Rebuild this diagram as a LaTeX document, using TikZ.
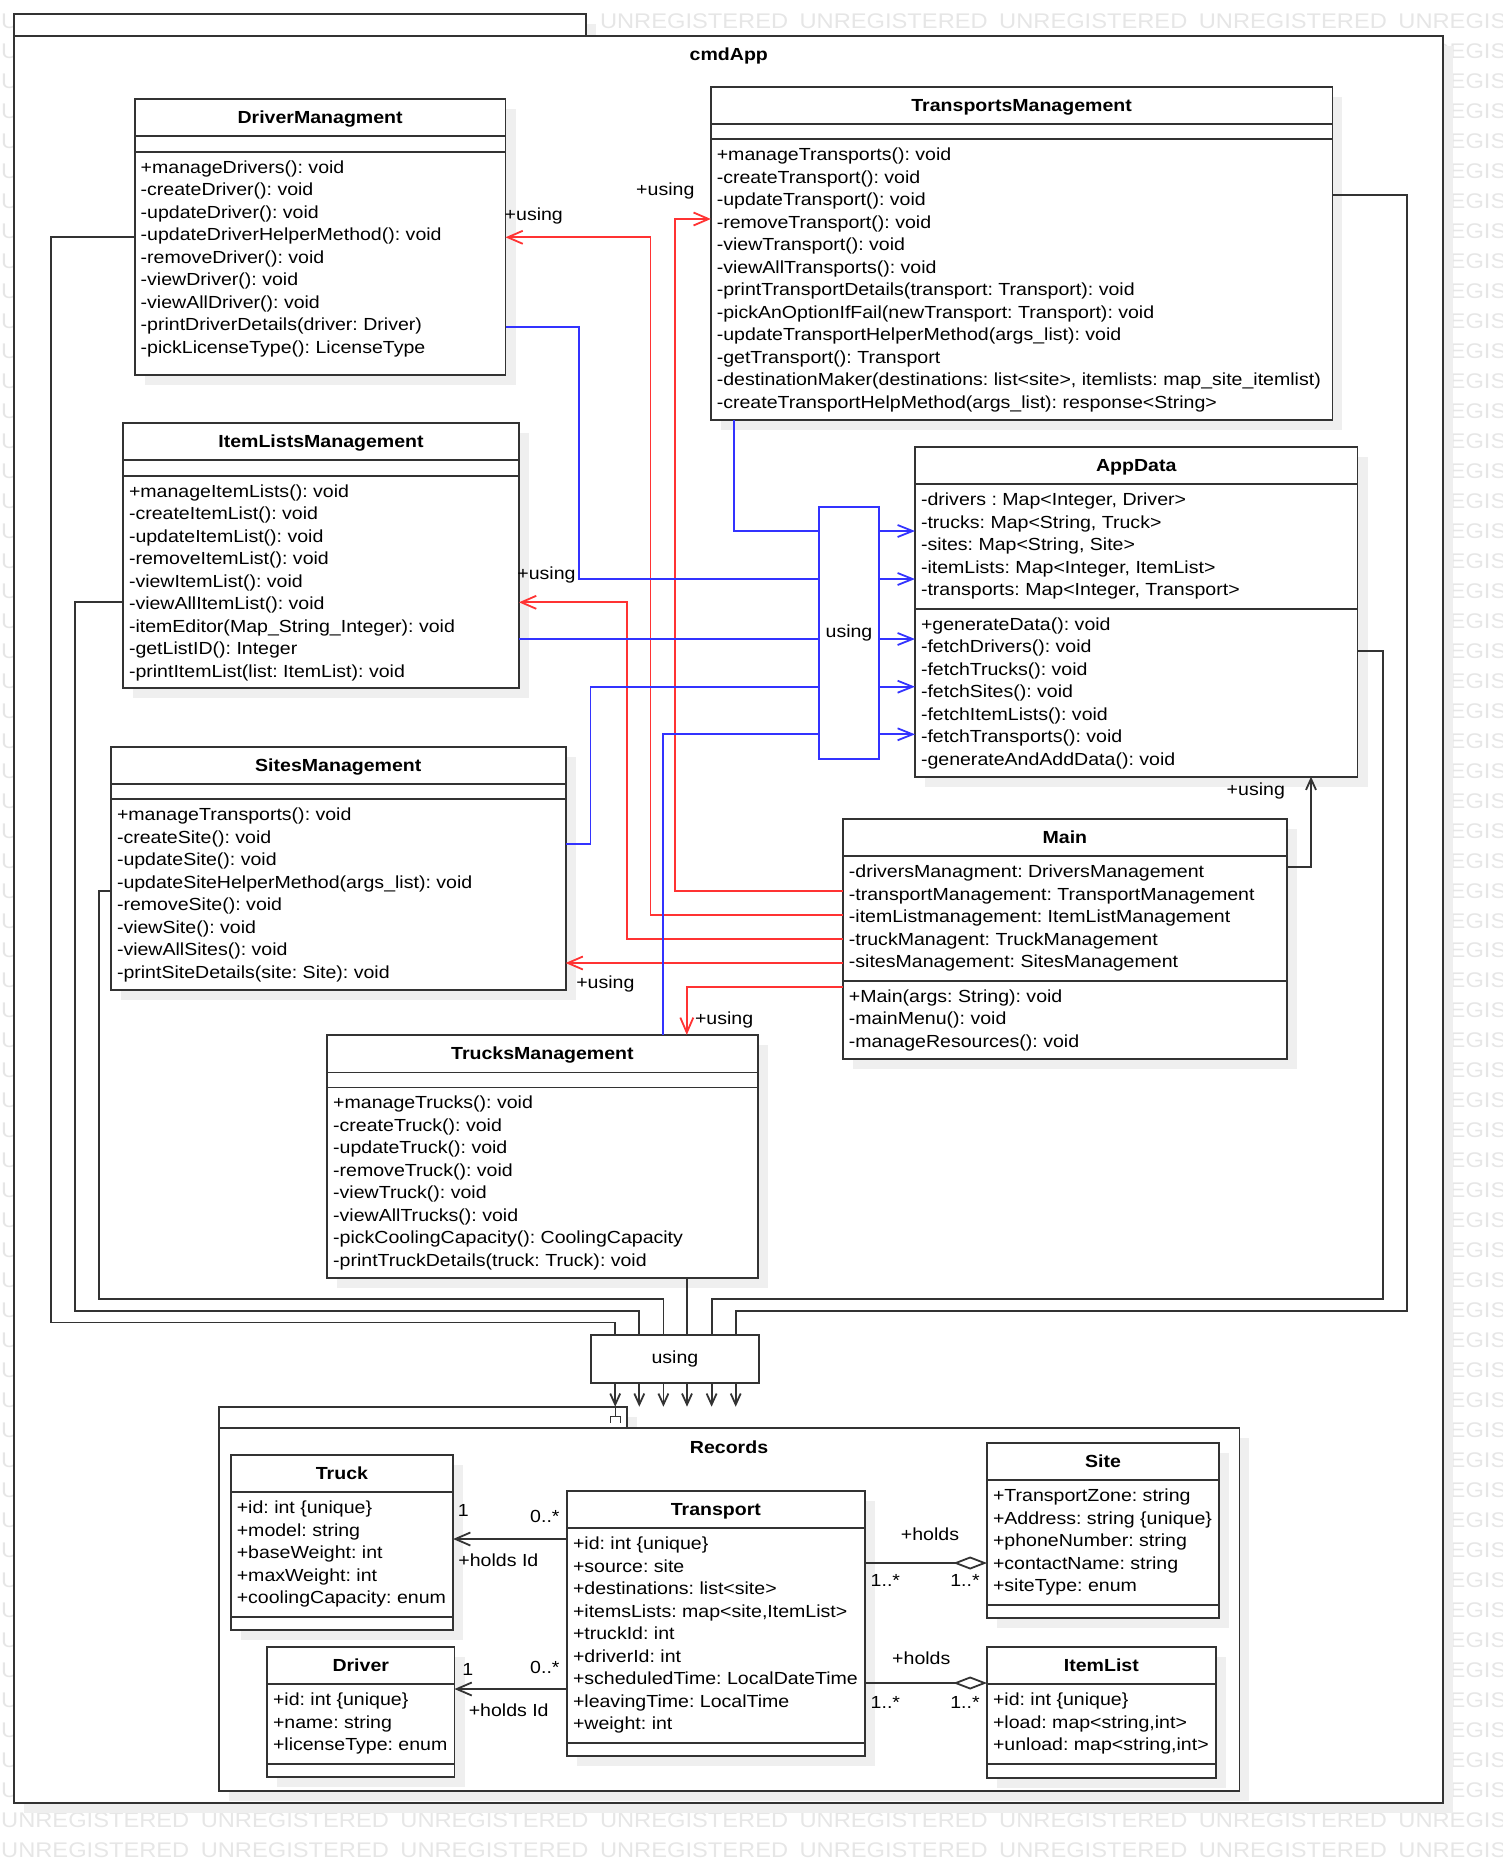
\documentclass[tikz,border=0pt]{standalone}
\usepackage{fontspec}
\setmainfont{Liberation Sans}[FakeStretch=1.117]
\usetikzlibrary{positioning,arrows.meta,shadows}
\newcommand{\umlfont}{\fontsize{17.5pt}{22.5pt}\selectfont\frenchspacing}
\definecolor{linkred}{HTML}{FF3333}
\definecolor{linkblue}{HTML}{3333FF}
\definecolor{edgegray}{HTML}{333333}
\definecolor{shadowgray}{HTML}{EFEFEF}
\definecolor{markgray}{HTML}{E6E6E6}
\pgfdeclarelayer{backlayer}
\pgfdeclarelayer{edgelayer}
\pgfdeclarelayer{nodelayer}
\pgfsetlayers{backlayer,nodelayer,edgelayer,main}
\tikzstyle{bendpt}=[inner sep=0pt, minimum size=0pt]
\tikzstyle{boxshadow}=[drop shadow={shadow xshift=10pt, shadow yshift=-10pt, opacity=1, fill=shadowgray}]
\tikzstyle{classhead}=[rectangle, draw=edgegray, fill=white, line width=1.8, outer sep=0pt, inner sep=0pt, minimum height=37.6, text height=12.5, text depth=0.9, font=\umlfont\bfseries, boxshadow]
\tikzstyle{classpart}=[rectangle, draw=edgegray, fill=white, line width=1.8, outer sep=0pt, inner sep=0pt, boxshadow]
\tikzstyle{members}=[anchor=north west, align=left, inner xsep=6, inner ysep=8.8, outer sep=0pt]
\tikzstyle{pkg}=[rectangle, draw=edgegray, fill=white, line width=1.8, outer sep=0pt, inner sep=0pt, boxshadow]
\tikzstyle{usingbox}=[rectangle, draw=edgegray, fill=white, line width=1.8, outer sep=0pt, inner sep=0pt]
\tikzstyle{lbl}=[anchor=base, inner sep=0pt, outer sep=0pt]
\tikzstyle{watermark}=[anchor=base west, inner sep=0pt, text=markgray, font=\fontsize{21.2pt}{26pt}\selectfont]
\tikzstyle{redarrow}=[draw=linkred, line width=1.8, -{Straight Barb[length=15pt,width=13pt]}]
\tikzstyle{blueline}=[draw=linkblue, line width=1.8]
\tikzstyle{bluearrow}=[draw=linkblue, line width=1.8, -{Straight Barb[length=15pt,width=12pt]}]
\tikzstyle{usingline}=[draw=edgegray, line width=1.8]
\tikzstyle{usingarrow}=[draw=edgegray, line width=1.8, -{Straight Barb[length=11pt,width=10pt]}]
\tikzstyle{assoc}=[draw=edgegray, line width=1.8, -{Straight Barb[length=15pt,width=13pt]}]
\tikzstyle{aggr}=[draw=edgegray, line width=1.8, -{Diamond[open,length=33.7pt,width=13pt]}]
\begin{document}
\begin{tikzpicture}[x=1pt, y=-1pt, every node/.style={font=\umlfont}]
	\useasboundingbox (0, 0) rectangle (1503, 1863);
	\begin{pgfonlayer}{backlayer}
		\begin{scope}
			\clip (0, 0) rectangle (1503, 1863);
			\foreach \r in {0,...,61} {
				\foreach \c in {0,...,7} {
					\node [style=watermark] at (1+199.6*\c, 28.6+29.98*\r) {UNREGISTERED};
				}
			}
		\end{scope}
		\node [style=pkg, minimum width=571.7, minimum height=21.3] (apptab) at (300.15, 24.95) {};
		\node [style=pkg, minimum width=1429, minimum height=1767.1] (app) at (728.8, 919.15) {};
		\node [style=lbl, font=\umlfont\bfseries] (applbl) at (728.8, 60.7) {cmdApp};
		\node [style=pkg, minimum width=408.3, minimum height=21] (rectab) at (422.85, 1417.2) {};
		\node [style=pkg, minimum width=1020.7, minimum height=363.3] (rec) at (729.05, 1609.35) {};
		\node [style=lbl, font=\umlfont\bfseries] (reclbl) at (729.05, 1453.3) {Records};
	\end{pgfonlayer}
	\begin{pgfonlayer}{nodelayer}
		\node [style=classhead, minimum width=370.8] (dmh) at (320.1, 117.5) {DriverManagment};
		\node [style=classpart, minimum width=370.8, minimum height=15.4, below=0pt of dmh] (dma) {};
		\node [style=classpart, minimum width=370.8, minimum height=223, below=0pt of dma] (dmm) {};
		\node [style=members] (dmt) at (dmm.north west) {+manageDrivers(): void\\-createDriver(): void\\-updateDriver(): void\\-updateDriverHelperMethod(): void\\-removeDriver(): void\\-viewDriver(): void\\-viewAllDriver(): void\\-printDriverDetails(driver: Driver)\\-pickLicenseType(): LicenseType};
		\node [style=classhead, minimum width=621.6] (tmh) at (1021.6, 105.5) {TransportsManagement};
		\node [style=classpart, minimum width=621.6, minimum height=15, below=0pt of tmh] (tma) {};
		\node [style=classpart, minimum width=621.6, minimum height=280.7, below=0pt of tma] (tmm) {};
		\node [style=members] (tmt) at (tmm.north west) {+manageTransports(): void\\-createTransport(): void\\-updateTransport(): void\\-removeTransport(): void\\-viewTransport(): void\\-viewAllTransports(): void\\-printTransportDetails(transport: Transport): void\\-pickAnOptionIfFail(newTransport: Transport): void\\-updateTransportHelperMethod(args\_list): void\\-getTransport(): Transport\\-destinationMaker(destinations: list<site>, itemlists: map\_site\_itemlist)\\-createTransportHelpMethod(args\_list): response<String>};
		\node [style=classhead, minimum width=396] (ilmh) at (321, 441.5) {ItemListsManagement};
		\node [style=classpart, minimum width=396, minimum height=15.7, below=0pt of ilmh] (ilma) {};
		\node [style=classpart, minimum width=396, minimum height=212.3, below=0pt of ilma] (ilmm) {};
		\node [style=members] (ilmt) at (ilmm.north west) {+manageItemLists(): void\\-createItemList(): void\\-updateItemList(): void\\-removeItemList(): void\\-viewItemList(): void\\-viewAllItemList(): void\\-itemEditor(Map\_String\_Integer): void\\-getListID(): Integer\\-printItemList(list: ItemList): void};
		\node [style=classhead, minimum width=454.6] (smh) at (338.3, 765.5) {SitesManagement};
		\node [style=classpart, minimum width=454.6, minimum height=15, below=0pt of smh] (sma) {};
		\node [style=classpart, minimum width=454.6, minimum height=190.4, below=0pt of sma] (smm) {};
		\node [style=members] (smt) at (smm.north west) {+manageTransports(): void\\-createSite(): void\\-updateSite(): void\\-updateSiteHelperMethod(args\_list): void\\-removeSite(): void\\-viewSite(): void\\-viewAllSites(): void\\-printSiteDetails(site: Site): void};
		\node [style=classhead, minimum width=430.4] (trmh) at (542.4, 1053.65) {TrucksManagement};
		\node [style=classpart, minimum width=430.4, minimum height=15, below=0pt of trmh] (trma) {};
		\node [style=classpart, minimum width=430.4, minimum height=190.4, below=0pt of trma] (trmm) {};
		\node [style=members] (trmt) at (trmm.north west) {+manageTrucks(): void\\-createTruck(): void\\-updateTruck(): void\\-removeTruck(): void\\-viewTruck(): void\\-viewAllTrucks(): void\\-pickCoolingCapacity(): CoolingCapacity\\-printTruckDetails(truck: Truck): void};
		\node [style=classhead, minimum width=442.5, minimum height=37.3] (adh) at (1136.25, 465.65) {AppData};
		\node [style=classpart, minimum width=442.5, minimum height=124.7, below=0pt of adh] (ada) {};
		\node [style=classpart, minimum width=442.5, minimum height=167.7, below=0pt of ada] (adm) {};
		\node [style=members] (adta) at (ada.north west) {-drivers : Map<Integer, Driver>\\-trucks: Map<String, Truck>\\-sites: Map<String, Site>\\-itemLists: Map<Integer, ItemList>\\-transports: Map<Integer, Transport>};
		\node [style=members] (adtm) at (adm.north west) {+generateData(): void\\-fetchDrivers(): void\\-fetchTrucks(): void\\-fetchSites(): void\\-fetchItemLists(): void\\-fetchTransports(): void\\-generateAndAddData(): void};
		\node [style=classhead, minimum width=444, minimum height=37.3] (mnh) at (1064.9, 837.65) {Main};
		\node [style=classpart, minimum width=444, minimum height=124.7, below=0pt of mnh] (mna) {};
		\node [style=classpart, minimum width=444, minimum height=77.7, below=0pt of mna] (mnm) {};
		\node [style=members] (mnta) at (mna.north west) {-driversManagment: DriversManagement\\-transportManagement: TransportManagement\\-itemListmanagement: ItemListManagement\\-truckManagent: TruckManagement\\-sitesManagement: SitesManagement};
		\node [style=members] (mntm) at (mnm.north west) {+Main(args: String): void\\-mainMenu(): void\\-manageResources(): void};
		\node [style=usingbox, draw=linkblue, minimum width=60.4, minimum height=252] (ub) at (849, 633) {using};
		\node [style=usingbox, minimum width=167.9, minimum height=47.7] (ub2) at (674.95, 1358.85) {using};
		\node [style=classhead, minimum width=222.3, minimum height=37.3] (tkh) at (341.95, 1473.65) {Truck};
		\node [style=classpart, minimum width=222.3, minimum height=124.4, below=0pt of tkh] (tka) {};
		\node [style=classpart, minimum width=222.3, minimum height=13.3, below=0pt of tka] (tkm) {};
		\node [style=members] (tkt) at (tka.north west) {+id: int \{unique\}\\+model: string\\+baseWeight: int\\+maxWeight: int\\+coolingCapacity: enum};
		\node [style=classhead, minimum width=187.5] (drh) at (360.75, 1665.5) {Driver};
		\node [style=classpart, minimum width=187.5, minimum height=79.7, below=0pt of drh] (dra) {};
		\node [style=classpart, minimum width=187.5, minimum height=13.3, below=0pt of dra] (drm) {};
		\node [style=members] (drt) at (dra.north west) {+id: int \{unique\}\\+name: string\\+licenseType: enum};
		\node [style=classhead, minimum width=297.7, minimum height=37.3] (tph) at (715.85, 1509.65) {Transport};
		\node [style=classpart, minimum width=297.7, minimum height=215, below=0pt of tph] (tpa) {};
		\node [style=classpart, minimum width=297.7, minimum height=12.7, below=0pt of tpa] (tpm) {};
		\node [style=members] (tpt) at (tpa.north west) {+id: int \{unique\}\\+source: site\\+destinations: list<site>\\+itemsLists: map<site,ItemList>\\+truckId: int\\+driverId: int\\+scheduledTime: LocalDateTime\\+leavingTime: LocalTime\\+weight: int};
		\node [style=classhead, minimum width=232] (sth) at (1103, 1461.5) {Site};
		\node [style=classpart, minimum width=232, minimum height=124.7, below=0pt of sth] (sta) {};
		\node [style=classpart, minimum width=232, minimum height=13.3, below=0pt of sta] (stm) {};
		\node [style=members] (stt) at (sta.north west) {+TransportZone: string\\+Address: string \{unique\}\\+phoneNumber: string\\+contactName: string\\+siteType: enum};
		\node [style=classhead, minimum width=228.7, minimum height=37.3] (ilh) at (1101.35, 1665.65) {ItemList};
		\node [style=classpart, minimum width=228.7, minimum height=79.7, below=0pt of ilh] (ila) {};
		\node [style=classpart, minimum width=228.7, minimum height=13.7, below=0pt of ila] (ilm) {};
		\node [style=members] (ilt) at (ila.north west) {+id: int \{unique\}\\+load: map<string,int>\\+unload: map<string,int>};
		\node [style=lbl] (u1) at (665.3, 195) {+using};
		\node [style=lbl] (u2) at (533.8, 220) {+using};
		\node [style=lbl] (u3) at (546.5, 579.5) {+using};
		\node [style=lbl] (u4) at (605.4, 988.5) {+using};
		\node [style=lbl] (u5) at (724.1, 1024.2) {+using};
		\node [style=lbl] (u6) at (1255.8, 795.5) {+using};
		\node [style=lbl] (m1) at (463.4, 1516.7) {1};
		\node [style=lbl] (m2) at (544.9, 1522.5) {0..*};
		\node [style=lbl] (h1) at (498.4, 1566.7) {+holds Id};
		\node [style=lbl] (m3) at (467.8, 1675) {1};
		\node [style=lbl] (m4) at (544.9, 1673.3) {0..*};
		\node [style=lbl] (h2) at (508.7, 1716.7) {+holds Id};
		\node [style=lbl] (h3) at (930, 1540) {+holds};
		\node [style=lbl] (m5) at (885.4, 1586) {1..*};
		\node [style=lbl] (m6) at (965, 1586) {1..*};
		\node [style=lbl] (h4) at (921.3, 1664) {+holds};
		\node [style=lbl] (m7) at (885.4, 1708.3) {1..*};
		\node [style=lbl] (m8) at (965, 1708.3) {1..*};
		\node [style=bendpt] (1) at (675.2, 890.7) {};
		\node [style=bendpt] (2) at (675.2, 219) {};
		\node [style=bendpt] (3) at (650.5, 915) {};
		\node [style=bendpt] (4) at (650.5, 237.3) {};
		\node [style=bendpt] (5) at (627.2, 939) {};
		\node [style=bendpt] (6) at (627.2, 602.3) {};
		\node [style=bendpt] (7) at (700, 963) {};
		\node [style=bendpt] (8) at (686.8, 987) {};
		\node [style=bendpt] (9) at (734.3, 531) {};
		\node [style=bendpt] (10) at (579, 326.7) {};
		\node [style=bendpt] (11) at (579, 579) {};
		\node [style=bendpt] (12) at (700, 639) {};
		\node [style=bendpt] (13) at (590.4, 844) {};
		\node [style=bendpt] (14) at (590.4, 686.7) {};
		\node [style=bendpt] (15) at (662.6, 734.3) {};
		\node [style=bendpt] (16) at (51, 237.3) {};
		\node [style=bendpt] (17) at (51, 1322.4) {};
		\node [style=bendpt] (18) at (615.2, 1322.4) {};
		\node [style=bendpt] (19) at (75, 602.3) {};
		\node [style=bendpt] (20) at (75, 1310.7) {};
		\node [style=bendpt] (21) at (639.3, 1310.7) {};
		\node [style=bendpt] (22) at (98.9, 890.7) {};
		\node [style=bendpt] (23) at (98.9, 1299) {};
		\node [style=bendpt] (24) at (663.4, 1299) {};
		\node [style=bendpt] (25) at (687, 1300) {};
		\node [style=bendpt] (26) at (1383, 650.7) {};
		\node [style=bendpt] (27) at (1383, 1299) {};
		\node [style=bendpt] (28) at (711.6, 1299) {};
		\node [style=bendpt] (29) at (1407.2, 195) {};
		\node [style=bendpt] (30) at (1407.2, 1310.7) {};
		\node [style=bendpt] (31) at (735.7, 1310.7) {};
		\node [style=bendpt] (32) at (1311, 866.7) {};
		\node [style=bendpt] (33) at (510, 1539) {};
		\node [style=bendpt] (34) at (510, 1689) {};
		\node [style=bendpt] (35) at (925, 1563) {};
		\node [style=bendpt] (36) at (925, 1683) {};
	\end{pgfonlayer}
	\begin{pgfonlayer}{edgelayer}
		\draw [style=redarrow] (mna.west |- 1.center) to (1.center) to (2.center) to (tmm.west |- 2.center);
		\draw [style=redarrow] (mna.west |- 3.center) to (3.center) to (4.center) to (dmm.east |- 4.center);
		\draw [style=redarrow] (mna.west |- 5.center) to (5.center) to (6.center) to (ilmm.east |- 6.center);
		\draw [style=redarrow] (mna.west |- 7.center) to (smm.east |- 7.center);
		\draw [style=redarrow] (mnm.west |- 8.center) to (8.center) to (trmh.north -| 8.center);
		\draw [style=blueline] (tmm.south -| 9.center) to (9.center) to (ub.west |- 9.center);
		\draw [style=blueline] (dmm.east |- 10.center) to (10.center) to (11.center) to (ub.west |- 11.center);
		\draw [style=blueline] (ilmm.east |- 12.center) to (ub.west |- 12.center);
		\draw [style=blueline] (smm.east |- 13.center) to (13.center) to (14.center) to (ub.west |- 14.center);
		\draw [style=blueline] (trmh.north -| 15.center) to (15.center) to (ub.west |- 15.center);
		\draw [style=bluearrow] (ub.east |- 9.center) to (ada.west |- 9.center);
		\draw [style=bluearrow] (ub.east |- 11.center) to (ada.west |- 11.center);
		\draw [style=bluearrow] (ub.east |- 12.center) to (adm.west |- 12.center);
		\draw [style=bluearrow] (ub.east |- 14.center) to (adm.west |- 14.center);
		\draw [style=bluearrow] (ub.east |- 15.center) to (adm.west |- 15.center);
		\draw [style=usingline] (dmm.west |- 16.center) to (16.center) to (17.center) to (18.center) to (ub2.north -| 18.center);
		\draw [style=usingline] (ilmm.west |- 19.center) to (19.center) to (20.center) to (21.center) to (ub2.north -| 21.center);
		\draw [style=usingline] (smm.west |- 22.center) to (22.center) to (23.center) to (24.center) to (ub2.north -| 24.center);
		\draw [style=usingline] (trmm.south -| 25.center) to (ub2.north -| 25.center);
		\draw [style=usingline] (adm.east |- 26.center) to (26.center) to (27.center) to (28.center) to (ub2.north -| 28.center);
		\draw [style=usingline] (tmm.east |- 29.center) to (29.center) to (30.center) to (31.center) to (ub2.north -| 31.center);
		\draw [style=usingarrow] (mna.east |- 32.center) to (32.center) to (adm.south -| 32.center);
		\foreach \n in {18,21,24,25,28,31}
			\draw [style=usingarrow] (ub2.south -| \n.center) to (rectab.north -| \n.center);
		\draw [style=usingline, line width=1.2] (615.2, 1406.7) -- (615.2, 1416.5);
		\draw [style=usingline, line width=1.2] (610.2, 1422.7) -- (610.2, 1416.5) -- (620.2, 1416.5) -- (620.2, 1422.7);
		\draw [style=assoc] (tpa.west |- 33.center) to (tka.east |- 33.center);
		\draw [style=assoc] (tpa.west |- 34.center) to (dra.east |- 34.center);
		\draw [style=aggr] (tpa.east |- 35.center) to (sta.west |- 35.center);
		\draw [style=aggr] (tpa.east |- 36.center) to (ilh.west |- 36.center);
	\end{pgfonlayer}
\end{tikzpicture}
\end{document}
